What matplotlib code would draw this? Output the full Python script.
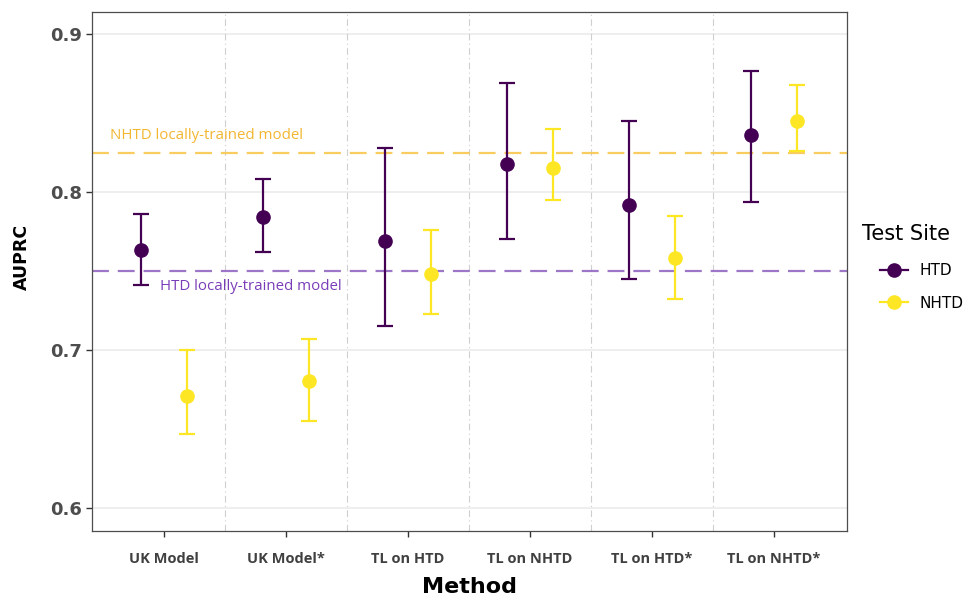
import matplotlib
matplotlib.use("Agg")
import numpy as np
import matplotlib.pyplot as plt
from matplotlib.lines import Line2D

# 方法類別
methods = ["UK Model", "UK Model*", "TL on HTD", "TL on NHTD", "TL on HTD*", "TL on NHTD*"]

# HTD 測試站點
htd_mean = [0.763, 0.784, 0.769, 0.818, 0.792, 0.836]
htd_low = [0.741, 0.762, 0.715, 0.770, 0.745, 0.794]
htd_high = [0.786, 0.808, 0.828, 0.869, 0.845, 0.877]

# NHTD 測試站點
nhtd_mean = [0.671, 0.680, 0.748, 0.815, 0.758, 0.845]
nhtd_low = [0.647, 0.655, 0.723, 0.795, 0.732, 0.826]
nhtd_high = [0.700, 0.707, 0.776, 0.840, 0.785, 0.868]

# 本地訓練模型的參考線
htd_local = 0.750
nhtd_local = 0.825

HTD_COLOR = "#440154"
NHTD_COLOR = "#FDE725"


def plot_series(ax, x, mean, low, high, color):
    mean = np.array(mean)
    err = [mean - np.array(low), np.array(high) - mean]
    ax.errorbar(x, mean, yerr=err, fmt="o", color=color, ecolor=color,
                markersize=9.5, elinewidth=1.6, capsize=6, capthick=1.6, zorder=4)


def main():
    fig = plt.figure(figsize=(9.66, 5.98), dpi=100)
    ax = fig.add_axes([0.0952, 0.1125, 0.7816, 0.8679])

    x = np.arange(1, len(methods) + 1)
    dodge = 0.19

    # 參考線
    ax.axhline(nhtd_local, color="#F9C74F", alpha=0.9, lw=1.6,
               linestyle=(0, (7.6, 4)), zorder=2)
    ax.axhline(htd_local, color="#9467C2", alpha=0.9, lw=1.6,
               linestyle=(0, (7.6, 4)), zorder=2)
    ax.text(0.56, 0.836, "NHTD locally-trained model", color="#F2B631",
            fontsize=10.8, family="Open Sans", va="center", ha="left")
    ax.text(0.965, 0.740, "HTD locally-trained model", color="#7A3DB8",
            fontsize=10.8, family="Open Sans", va="center", ha="left")

    # 類別分隔線
    for b in np.arange(1.5, len(methods), 1.0):
        ax.axvline(b, color="#CFCFCF", lw=0.8, linestyle=(0, (6, 3, 1, 3)), zorder=1)

    plot_series(ax, x - dodge, htd_mean, htd_low, htd_high, HTD_COLOR)
    plot_series(ax, x + dodge, nhtd_mean, nhtd_low, nhtd_high, NHTD_COLOR)

    ax.set_xlim(0.41, 6.6)
    ax.set_ylim(0.5854, 0.9143)
    ax.set_yticks([0.6, 0.7, 0.8, 0.9])
    ax.set_xticks(x)
    ax.set_xticklabels(methods, family="Open Sans", fontweight="bold",
                       fontsize=10.5, color="#404040")
    ax.tick_params(axis="x", length=4, width=1, color="#333333", pad=11)
    ax.tick_params(axis="y", length=4, width=1, color="#333333",
                   labelsize=13, labelcolor="#4D4D4D", pad=3)
    for lab in ax.get_yticklabels():
        lab.set_fontweight("bold")

    ax.grid(axis="y", color="#EBEBEB", lw=1.2, zorder=0)
    ax.set_axisbelow(True)
    for s in ax.spines.values():
        s.set_color("#4D4D4D")
        s.set_linewidth(0.9)

    ax.set_xlabel("Method", fontsize=16, fontweight="bold", labelpad=8)
    ax.set_ylabel("AUPRC", fontsize=12.5, fontweight="bold")
    ax.yaxis.set_label_coords(-0.081, 0.527)

    # 圖例
    fig.text(862 / 966, 1 - 234 / 598, "Test Site", fontsize=15,
             ha="left", va="center")
    handles = [
        Line2D([0], [0], color=HTD_COLOR, marker="o", markersize=9.5, lw=1.6),
        Line2D([0], [0], color=NHTD_COLOR, marker="o", markersize=9.5, lw=1.6),
    ]
    fig.legend(handles, ["HTD", "NHTD"],
               loc="center left", bbox_to_anchor=(0.911, 1 - 287 / 598),
               frameon=False, fontsize=11, borderpad=0, borderaxespad=0,
               handlelength=1.85, labelspacing=1.15, handletextpad=0.75)

    fig.savefig("out.png", dpi=100)
    plt.close(fig)


if __name__ == "__main__":
    main()
